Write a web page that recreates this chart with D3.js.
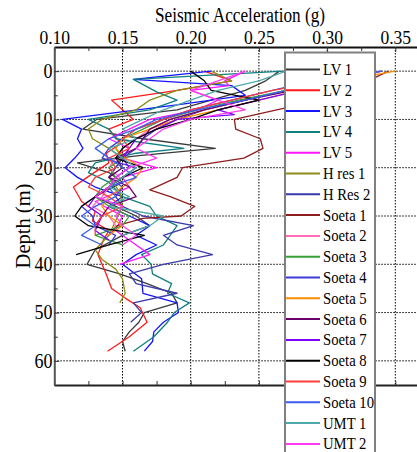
<!DOCTYPE html>
<html><head><meta charset="utf-8">
<script src="https://cdn.jsdelivr.net/npm/d3@7"></script>
<style>
html,body{margin:0;padding:0;background:#fff;overflow:hidden}
svg{display:block;font-family:"Liberation Serif","Times New Roman",serif}
</style></head>
<body><svg id="c" width="417" height="452"></svg>
<script>
// ---- data: [depth (m), seismic acceleration (g)] ----
const lv1 = [[0,0.265],[2,0.255],[4,0.24],[6,0.215],[8,0.19],[10,0.131],[12,0.121],[14,0.165],[16,0.218],[17.5,0.162],[19,0.117],[21,0.14],[23,0.15],[26,0.13],[28,0.145],[30,0.16],[32,0.17],[34,0.15],[37,0.13],[40,0.124],[42,0.148],[44,0.168],[46,0.186],[48,0.19],[50,0.166],[52,0.162],[54,0.155],[56,0.15],[58,0.152]];
const lv2 = [[0,0.21],[2,0.23],[4,0.19],[6,0.142],[8,0.15],[10,0.158],[12,0.14],[15,0.149],[17,0.138],[19,0.14],[22,0.124],[24,0.114],[27,0.12],[29,0.13],[31,0.128],[33,0.14],[35,0.136],[38,0.132],[40,0.135],[42,0.138],[45,0.142],[47,0.152],[49,0.163],[52,0.168],[55,0.155],[58,0.139]];
const lv3 = [[0,0.215],[1.7,0.158],[3,0.23],[5,0.24],[7,0.19],[8.5,0.148],[10,0.106],[12,0.12],[14,0.117],[16,0.121],[18,0.115],[20,0.108],[22,0.117],[24,0.13],[26,0.15],[28,0.14],[30,0.155],[32,0.17],[34,0.16],[36,0.175],[38,0.16],[40,0.15],[43,0.164],[46,0.165],[48,0.19],[50,0.191],[52,0.18],[54,0.173],[56,0.172],[58,0.166]];
const lv4 = [[0,0.268],[1.7,0.158],[4.3,0.175],[6,0.19],[8,0.17],[10,0.125],[12,0.14],[14,0.145],[16,0.195],[17,0.16],[19,0.13],[21,0.125],[23,0.14],[26,0.15],[28,0.17],[30,0.175],[32,0.19],[34,0.185],[36,0.18],[38,0.164],[40,0.171],[42,0.172],[44,0.186],[46,0.183],[48,0.199],[50,0.188],[52,0.183],[55,0.173],[58,0.158]];
const lv5 = [[0,0.24],[2,0.225],[3,0.228],[4,0.2],[6,0.22],[8,0.205],[10,0.17],[12,0.155],[14,0.14],[16,0.155],[18,0.15],[20,0.175],[22,0.15],[24,0.155],[27,0.13],[30,0.15],[33,0.145],[36,0.16],[38,0.17],[40,0.148]];
const hres1 = [[0,0.215],[2,0.23],[4,0.19],[6,0.17],[8,0.16],[10,0.135],[12,0.125],[14,0.128],[16,0.14],[18,0.15],[20,0.145],[22,0.14],[25,0.148],[28,0.15],[31,0.145],[34,0.14],[37,0.13],[39,0.135],[41,0.145],[43,0.15],[46,0.152],[48,0.148]];
const hres2 = [[0,0.34],[2,0.31],[4,0.27],[6,0.24],[8,0.21],[10,0.19],[12,0.175],[14,0.165],[16,0.16],[18,0.15],[20,0.145],[22,0.14],[24,0.15],[26,0.145],[28,0.15],[30,0.165],[32,0.202],[34,0.18],[36,0.19],[38,0.216],[40,0.18],[42,0.155],[44,0.16],[46,0.19],[48,0.158],[50,0.164],[52,0.156]];
const soeta1 = [[0,0.345],[2,0.33],[4,0.3],[6,0.28],[7.7,0.268],[10,0.232],[12,0.233],[14,0.251],[16,0.253],[18,0.239],[20,0.194],[22,0.19],[24.6,0.17],[26,0.185],[28,0.203],[30,0.193],[30.5,0.165],[32,0.146],[34,0.14]];
const soeta2 = [[0,0.33],[2,0.3],[4,0.27],[6,0.24],[8,0.21],[10,0.185],[12,0.17],[14,0.16],[16,0.15],[18,0.145],[20,0.14],[22,0.148],[24,0.14],[26,0.135],[28,0.128],[30,0.14],[32,0.145],[34,0.14]];
const soeta3 = [[0,0.32],[2,0.3],[4,0.27],[6,0.235],[8,0.205],[10,0.18],[12,0.165],[14,0.15],[16,0.145],[18,0.15],[20,0.14],[22,0.145],[24,0.135],[26,0.13],[28,0.14],[30,0.155],[32,0.15],[34,0.13],[36,0.15]];
const soeta4 = [[0,0.33],[2,0.29],[4,0.26],[6,0.23],[8,0.2],[10,0.18],[12,0.16],[14,0.15],[16,0.14],[18,0.135],[20,0.16],[22,0.15],[24,0.14],[26,0.13],[28,0.12],[30,0.128],[32,0.13],[34,0.145],[36,0.14]];
const soeta5 = [[0,0.35],[2,0.31],[4,0.28],[6,0.25],[8,0.22],[10,0.19],[12,0.17],[14,0.15],[16,0.145],[18,0.152],[20,0.165],[22,0.16],[24,0.15],[26,0.14],[28,0.135],[30,0.14],[32,0.15],[34,0.14]];
const soeta6 = [[0,0.33],[2,0.3],[4,0.275],[6,0.24],[8,0.21],[10,0.185],[12,0.17],[14,0.165],[16,0.16],[18,0.145],[20,0.15],[22,0.14],[24,0.155],[26,0.16],[28,0.14],[30,0.135],[32,0.13]];
const soeta7 = [[0,0.33],[2,0.31],[4,0.28],[6,0.25],[8,0.22],[9,0.232],[10,0.19],[12,0.175],[14,0.16],[16,0.155],[18,0.15],[20,0.155],[22,0.145],[24,0.14],[26,0.13],[28,0.125],[30,0.135],[33,0.13],[35,0.14]];
const soeta8 = [[0,0.2],[2,0.21],[4,0.215],[6,0.25],[8,0.22],[10,0.2],[12,0.175],[14,0.16],[16,0.15],[18,0.145],[20,0.165],[22,0.15],[24,0.14],[26,0.13],[28,0.12],[30,0.115],[32,0.125],[34,0.166],[36,0.14],[38,0.116]];
const soeta9 = [[0,0.34],[2,0.3],[4,0.26],[6,0.23],[8,0.2],[10,0.18],[12,0.16],[14,0.15],[16,0.155],[18,0.14],[20,0.145],[22,0.13],[24,0.125],[26,0.14],[28,0.15],[30,0.135],[32,0.13],[34,0.13]];
const soeta10 = [[0,0.34],[2,0.3],[4,0.27],[6,0.24],[8,0.205],[10,0.175],[12,0.16],[14,0.14],[16,0.13],[18,0.14],[20,0.15],[22,0.16],[24,0.14],[26,0.145],[28,0.13],[30,0.12],[32,0.13],[34,0.12],[36,0.135]];
const umt1 = [[0,0.27],[2,0.25],[4,0.22],[6,0.2],[8,0.18],[10,0.165],[12,0.15],[14,0.16],[16,0.14],[18,0.15],[20,0.16],[22,0.15],[24,0.14],[26,0.155],[28,0.14],[30,0.18],[32,0.17],[34,0.15]];
const umt2 = [[0,0.24],[2,0.22],[4,0.2],[6,0.22],[8,0.24],[10,0.2],[12,0.18],[14,0.17],[16,0.16],[18,0.175],[20,0.155],[22,0.145],[24,0.14],[26,0.13],[28,0.15],[30,0.145],[32,0.15],[34,0.16],[36,0.15]];

const seriesNames = ["LV 1","LV 2","LV 3","LV 4","LV 5","H res 1","H Res 2","Soeta 1","Soeta 2","Soeta 3","Soeta 4","Soeta 5","Soeta 6","Soeta 7","Soeta 8","Soeta 9","Soeta 10","UMT 1","UMT 2"];
const seriesData = [lv1,lv2,lv3,lv4,lv5,hres1,hres2,soeta1,soeta2,soeta3,soeta4,soeta5,soeta6,soeta7,soeta8,soeta9,soeta10,umt1,umt2];
const xTicks = [0.10,0.15,0.20,0.25,0.30,0.35];
const yTicks = [0,10,20,30,40,50,60];
const xMinor = [0.125,0.175,0.225,0.275,0.325];
const yMinor = [5,15,25,35,45,55,65];

// ---- styles ----
const colors = ["#3a3a3a","#ff1a1a","#1414ff","#0f7f7f","#ff14ff","#8c8c14","#3a3aa8","#8e1e1e","#ff6eb4","#35a035","#3c3cd8","#ff8c00","#6a006a","#8000ff","#000000","#ff3c3c","#3c5cf0","#4ea8a8","#ff3cf0"];

const svg = d3.select("#c");
const x = d3.scaleLinear().domain([0.10,0.37]).range([54.3, 54.3 + 0.27*1364]);
const y = d3.scaleLinear().domain([-5,65]).range([47,385]);

// grid
const grid = svg.append("g").attr("stroke","#000").attr("stroke-width",1).attr("stroke-dasharray","1.5,1.5");
grid.selectAll("line.v").data(xTicks.slice(1)).join("line").attr("class","v")
  .attr("x1",d=>x(d)).attr("x2",d=>x(d)).attr("y1",y(-5)).attr("y2",y(65));
grid.selectAll("line.h").data(yTicks).join("line").attr("class","h")
  .attr("x1",x(0.10)).attr("x2",x(0.37)).attr("y1",d=>y(d)).attr("y2",d=>y(d));

// series lines
const line = d3.line().x(d=>x(d[1])).y(d=>y(d[0]));
svg.append("g").attr("fill","none").attr("stroke-width",1.3).attr("stroke-linejoin","round")
  .selectAll("path").data(seriesData).join("path")
  .attr("d",line).attr("stroke",(d,i)=>colors[i]);

// axes
const topAx = svg.append("g").attr("transform",`translate(0,${y(-5)})`)
  .call(d3.axisTop(x).tickValues(xTicks).tickFormat(d3.format(".2f")).tickSize(-5).tickSizeOuter(0).tickPadding(3));
topAx.selectAll("text").attr("font-size",19.5).attr("font-family","Liberation Serif").attr("fill","#000").attr("transform","scale(0.9,1)");
svg.append("g").attr("transform",`translate(0,${y(-5)})`)
  .call(d3.axisTop(x).tickValues(xMinor).tickFormat("").tickSize(-4).tickSizeOuter(0))
  .select(".domain").remove();
const botAx = svg.append("g").attr("transform",`translate(0,${y(65)})`)
  .call(d3.axisBottom(x).tickValues(xTicks.concat(xMinor)).tickFormat("").tickSize(-4).tickSizeOuter(0));
const leftAx = svg.append("g").attr("transform",`translate(${x(0.10)},0)`)
  .call(d3.axisLeft(y).tickValues(yTicks).tickSize(-5).tickSizeOuter(0).tickPadding(2));
leftAx.selectAll("text").attr("font-size",20).attr("font-family","Liberation Serif").attr("fill","#000").attr("transform","scale(0.9,1)");
svg.append("g").attr("transform",`translate(${x(0.10)},0)`)
  .call(d3.axisLeft(y).tickValues(yMinor).tickFormat("").tickSize(-3.5).tickSizeOuter(0))
  .select(".domain").remove();
svg.selectAll(".domain").attr("stroke-width",2);
topAx.select(".domain").attr("stroke","#111");
leftAx.select(".domain").attr("stroke","#555");
botAx.select(".domain").attr("stroke","#222");
svg.selectAll(".tick line").attr("stroke","#333");

// titles
svg.append("text").attr("transform","translate(240,22) scale(0.84,1)")
  .attr("text-anchor","middle").attr("font-size",20.5).text("Seismic Acceleration (g)");
svg.append("text").attr("transform","translate(30,226) rotate(-90)")
  .attr("text-anchor","middle").attr("font-size",20.5).text("Depth (m)");

// legend
const lg = svg.append("g");
lg.append("rect").attr("x",285).attr("y",52.5).attr("width",90).attr("height",420)
  .attr("fill","#fff").attr("stroke","#808080").attr("stroke-width",2);
const items = lg.selectAll("g.it").data(seriesNames).join("g").attr("class","it")
  .attr("transform",(d,i)=>`translate(286,${69.5 + i*20.8})`);
items.append("line").attr("x1",0).attr("x2",34).attr("stroke",(d,i)=>colors[i]).attr("stroke-width",2);
items.append("text").attr("transform","translate(37,5.5) scale(0.84,1)").attr("font-size",17.5).text(d=>d);
</script></body></html>
